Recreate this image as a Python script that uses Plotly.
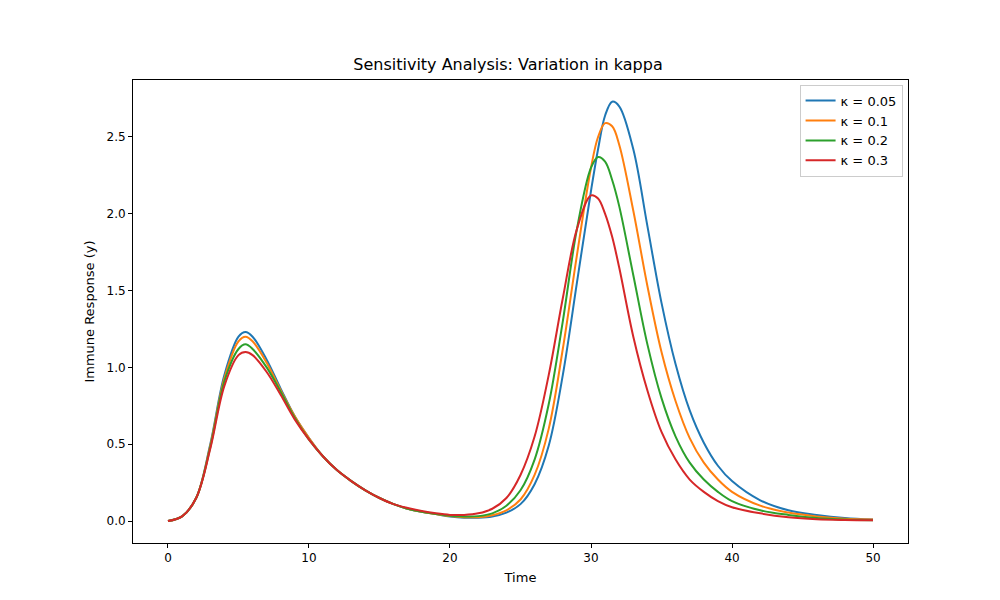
import plotly.graph_objects as go

time = [0, 1, 2, 3, 4, 5, 5.5, 6, 7, 8, 9, 10, 11, 12, 13, 14, 15, 16, 17, 18, 19, 20,
        21, 22, 23, 24, 25, 26, 27, 28, 29, 30, 30.5, 31, 31.5, 32, 33, 34, 35, 36, 37, 38, 39, 40,
        42, 44, 46, 48, 50]

y_k005 = [0, 0.03, 0.15, 0.5, 0.95, 1.2, 1.23, 1.2, 1.05, 0.86, 0.68, 0.54, 0.42, 0.33, 0.26, 0.2, 0.15, 0.11, 0.08, 0.06, 0.045, 0.03,
          0.022, 0.022, 0.03, 0.055, 0.11, 0.24, 0.49, 0.95, 1.55, 2.15, 2.42, 2.64, 2.73, 2.7, 2.42, 1.92, 1.42, 1.02, 0.72, 0.51, 0.36, 0.26,
          0.135, 0.07, 0.04, 0.02, 0.01]
y_k01 = [0, 0.03, 0.15, 0.49, 0.93, 1.17, 1.2, 1.17, 1.03, 0.85, 0.68, 0.54, 0.42, 0.33, 0.26, 0.2, 0.15, 0.11, 0.08, 0.06, 0.045, 0.032,
         0.025, 0.025, 0.038, 0.07, 0.14, 0.3, 0.6, 1.12, 1.73, 2.3, 2.5, 2.59, 2.57, 2.45, 2.02, 1.53, 1.1, 0.78, 0.54, 0.38, 0.27, 0.19,
         0.1, 0.055, 0.03, 0.015, 0.01]
y_k02 = [0, 0.03, 0.15, 0.48, 0.91, 1.12, 1.15, 1.12, 1.0, 0.84, 0.67, 0.53, 0.42, 0.33, 0.26, 0.2, 0.15, 0.11, 0.08, 0.06, 0.046, 0.035,
         0.03, 0.032, 0.05, 0.1, 0.2, 0.4, 0.76, 1.3, 1.9, 2.3, 2.37, 2.34, 2.22, 2.05, 1.6, 1.15, 0.8, 0.55, 0.38, 0.27, 0.19, 0.13,
         0.07, 0.04, 0.02, 0.01, 0.005]
y_k03 = [0, 0.03, 0.15, 0.47, 0.88, 1.08, 1.1, 1.08, 0.97, 0.82, 0.66, 0.53, 0.42, 0.33, 0.26, 0.2, 0.15, 0.11, 0.085, 0.065, 0.05, 0.04,
         0.04, 0.05, 0.08, 0.15, 0.3, 0.55, 0.95, 1.45, 1.9, 2.12, 2.1, 2.0, 1.85, 1.65, 1.2, 0.85, 0.58, 0.4, 0.27, 0.19, 0.13, 0.09,
         0.05, 0.025, 0.012, 0.007, 0.005]

series = [("κ = 0.05", y_k005, "#1f77b4"), ("κ = 0.1", y_k01, "#ff7f0e"),
          ("κ = 0.2", y_k02, "#2ca02c"), ("κ = 0.3", y_k03, "#d62728")]

fig = go.Figure()
for name, ys, color in series:
    fig.add_trace(go.Scatter(x=time, y=ys, name=name, mode="lines",
                             line=dict(color=color, width=2, shape="spline", smoothing=1)))

axis = dict(showgrid=False, zeroline=False, showline=True, linecolor="black", mirror=True,
            ticks="outside", ticklen=4, tickcolor="black", tickfont=dict(size=12), automargin=False)
fig.update_layout(
    width=1000, height=600, template="simple_white",
    font=dict(family="DejaVu Sans", size=12, color="black"),
    title=dict(text="Sensitivity Analysis: Variation in kappa", x=0.5, y=0.915, xanchor="center", font=dict(size=16)),
    margin=dict(l=125, r=100, t=72, b=65),
    legend=dict(x=0.993, y=0.99, xanchor="right", yanchor="top", bordercolor="#cccccc", borderwidth=1,
                font=dict(size=13)),
)
fig.update_xaxes(axis, range=[-2.48, 52.48], tickvals=[0, 10, 20, 30, 40, 50],
                 title=dict(text="Time", font=dict(size=13), standoff=8))
fig.update_yaxes(axis, range=[-0.143, 2.871], tickvals=[0, 0.5, 1, 1.5, 2, 2.5],
                 ticktext=["0.0", "0.5", "1.0", "1.5", "2.0", "2.5"],
                 title=dict(text="Immune Response (y)", font=dict(size=13), standoff=8))
fig.write_html("out.html")
